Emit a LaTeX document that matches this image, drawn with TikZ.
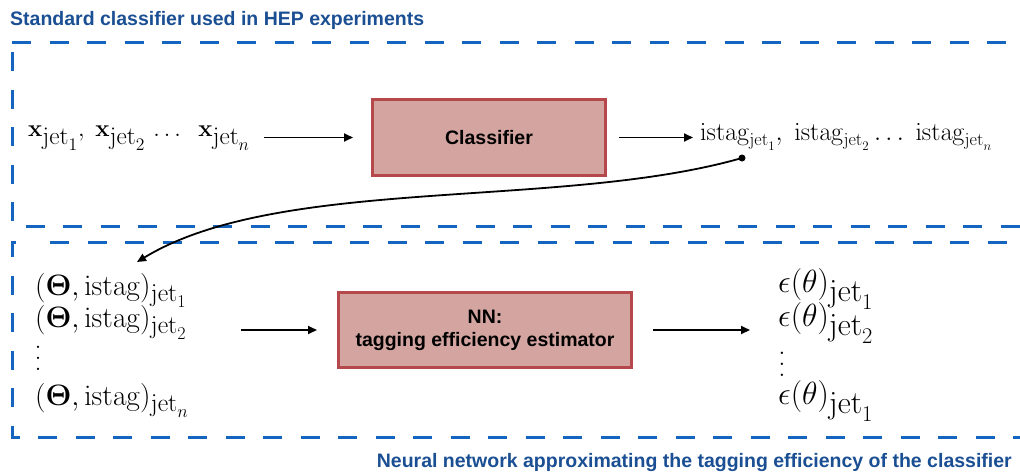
\RequirePackage{fix-cm}
\documentclass[tikz,border=0pt]{standalone}
\usepackage[no-math]{fontspec}
\usepackage{graphicx}
\newfontfamily\hel{Liberation Sans}
\usetikzlibrary{arrows.meta}
\definecolor{dblue}{HTML}{1565C0}
\definecolor{tblue}{HTML}{1B4F93}
\definecolor{boxfill}{HTML}{D4A5A0}
\definecolor{boxdraw}{HTML}{B5484A}
\newcommand\jsub[2]{_{\scalebox{#1}{$\mathrm{jet}_{#2}$}}}
\tikzset{
  dashline/.style={draw=dblue, line width=3pt, dash pattern=on 19pt off 18.5pt},
  boxnode/.style={draw=boxdraw, fill=boxfill, line width=3pt, inner sep=0pt,
    font=\hel\bfseries\fontsize{19.5}{23}\selectfont, align=center},
  label/.style={inner sep=0pt, text=tblue, font=\hel\bfseries\fontsize{19.5}{23}\selectfont},
  mtext/.style={inner sep=0pt, anchor=base west},
  dotcol/.style={inner sep=0pt, align=center},
  arr/.style={line width=1.8pt, -{Triangle[length=9pt,width=8pt]}}
}
\begin{document}
\begin{tikzpicture}[x=1pt,y=-1pt]
\useasboundingbox (0,0) rectangle (1020,472);
\clip (0,0) rectangle (1020,472);
% dashed frames
\draw[dashline] (12,42) -- (1030,42);
\draw[dashline] (12,52) -- (12,226) -- (1030,226);
\draw[dashline] (50,242) -- (1030,242);
\draw[dashline] (16,242) -- (12,242) -- (12,437) -- (1030,437);
% labels
\node[label, anchor=base west] (title) at (10,25) {Standard classifier used in HEP experiments};
\node[label, anchor=base east] (subtitle) at (1012,467) {Neural network approximating the tagging efficiency of the classifier};
% boxes
\node[boxnode, minimum width=233pt, minimum height=76pt] (clf) at (489,137.5) {Classifier};
\node[boxnode, minimum width=293pt, minimum height=75pt] (nn) at (485,330) {NN:\\tagging efficiency estimator};
% top row
\node[mtext, font=\fontsize{24}{28}\selectfont] (xrow) at (28,136)
  {$\mathbf{x}\jsub{1.05}{1},\;\mathbf{x}\jsub{1.05}{2}\,\ldots\;\;\mathbf{x}\jsub{1.05}{n}$};
\node[mtext, font=\fontsize{26}{30}\selectfont] (istag) at (700,140)
  {$\mathrm{istag}_{\mathrm{jet}_1},\;\mathrm{istag}_{\mathrm{jet}_2}\ldots\;\mathrm{istag}_{\mathrm{jet}_n}$};
% bottom left column
\node[mtext, font=\fontsize{29.5}{33}\selectfont] (th1) at (35,295) {$(\mathbf{\Theta},\mathrm{istag})\jsub{0.87}{1}$};
\node[mtext, font=\fontsize{29.5}{33}\selectfont] (th2) at (35,327) {$(\mathbf{\Theta},\mathrm{istag})\jsub{0.87}{2}$};
\node[dotcol, font=\fontsize{28}{11}\selectfont] (thv) at (38,358) {.\\.\\.};
\node[mtext, font=\fontsize{29.5}{33}\selectfont] (thn) at (35,405) {$(\mathbf{\Theta},\mathrm{istag})\jsub{0.87}{n}$};
% bottom right column
\node[mtext, font=\fontsize{32}{34}\selectfont] (e1) at (778,292) {$\epsilon(\theta)\jsub{1}{1}$};
\node[mtext, font=\fontsize{32}{34}\selectfont] (e2) at (778,326) {$\epsilon(\theta)\jsub{1}{2}$};
\node[dotcol, font=\fontsize{29}{11}\selectfont] (ev) at (782,364) {.\\.\\.};
\node[mtext, font=\fontsize{32}{34}\selectfont] (en) at (778,404) {$\epsilon(\theta)\jsub{1}{1}$};
% connectors
\draw[arr, shorten <=14pt, shorten >=18pt] (clf.west -| xrow.east) -- (clf.west);
\draw[arr, shorten <=12pt, shorten >=7pt] (clf.east) -- (clf.east -| istag.west);
\draw[arr, shorten <=54pt, shorten >=20pt] (nn.west -| th2.east) -- (nn.west);
\draw[arr, shorten <=20pt, shorten >=28pt] (nn.east) -- (nn.east -| e2.west);
\coordinate (dotp) at (742,158);
\coordinate (tip) at (137,262);
\fill (dotp) circle (3.5pt);
\draw[arr] (dotp) .. controls (560,210) and (280,175) .. (tip);
\end{tikzpicture}
\end{document}
